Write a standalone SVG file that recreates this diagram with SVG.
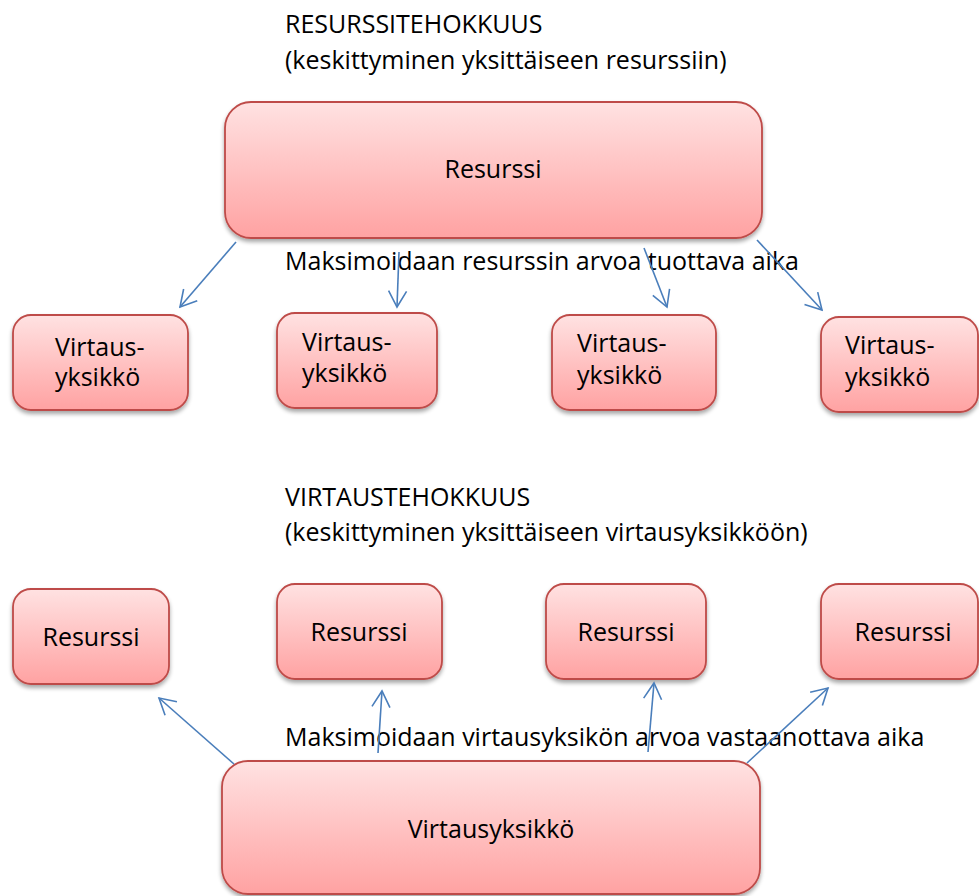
<svg xmlns="http://www.w3.org/2000/svg" width="979" height="896" viewBox="0 0 979 896">
<style>
text{font-family:"Open Sans","Noto Sans",sans-serif;font-size:25px;fill:#000}
.box{fill:url(#g);stroke:#BE4B48;stroke-width:1.8;filter:url(#sh)}
.c{text-anchor:middle}
.cn line{stroke:#4A7EBB;stroke-width:1.6;fill:none;marker-end:url(#ah)}
</style>
<defs>
<linearGradient id="g" x1="0" y1="0" x2="0" y2="1">
<stop offset="0" stop-color="#FFE2E2"/>
<stop offset="1" stop-color="#FFA2A2"/>
</linearGradient>
<filter id="sh" x="-10%" y="-10%" width="120%" height="130%">
<feGaussianBlur in="SourceAlpha" stdDeviation="2"/>
<feOffset dx="0" dy="3" result="b"/>
<feComponentTransfer><feFuncA type="linear" slope="0.35"/></feComponentTransfer>
<feMerge><feMergeNode/><feMergeNode in="SourceGraphic"/></feMerge>
</filter>
<marker id="ah" viewBox="0 0 20 20" refX="18" refY="10" markerWidth="20" markerHeight="20" markerUnits="userSpaceOnUse" orient="auto">
<path d="M2 1 L18 10 L2 19" fill="none" stroke="#4A7EBB" stroke-width="1.6"/>
</marker>
</defs>

<text x="285" y="33">RESURSSITEHOKKUUS</text>
<text x="285" y="69">(keskittyminen yksittäiseen resurssiin)</text>

<g id="res-top"><rect class="box" x="225" y="102" width="537" height="136" rx="26"/><text class="c" x="493" y="178">Resurssi</text></g>

<g id="vy1"><rect class="box" x="13" y="315" width="175" height="95" rx="18"/><text x="55" y="356">Virtaus-</text><text x="55" y="386">yksikkö</text></g>
<g id="vy2"><rect class="box" x="277" y="313" width="160" height="95" rx="18"/><text x="302" y="351">Virtaus-</text><text x="302" y="382">yksikkö</text></g>
<g id="vy3"><rect class="box" x="552" y="315" width="164" height="95" rx="18"/><text x="577" y="352">Virtaus-</text><text x="577" y="384">yksikkö</text></g>
<g id="vy4"><rect class="box" x="821" y="317" width="157" height="95" rx="18"/><text x="845" y="354">Virtaus-</text><text x="845" y="386">yksikkö</text></g>

<text x="285" y="270">Maksimoidaan resurssin arvoa tuottava aika</text>

<text x="285" y="506">VIRTAUSTEHOKKUUS</text>
<text x="285" y="541">(keskittyminen yksittäiseen virtausyksikköön)</text>

<g id="r1"><rect class="box" x="13" y="589" width="156" height="95" rx="18"/><text class="c" x="91" y="646">Resurssi</text></g>
<g id="r2"><rect class="box" x="277" y="584" width="165" height="95" rx="18"/><text class="c" x="359" y="641">Resurssi</text></g>
<g id="r3"><rect class="box" x="546" y="584" width="160" height="95" rx="18"/><text class="c" x="626" y="641">Resurssi</text></g>
<g id="r4"><rect class="box" x="821" y="584" width="157" height="95" rx="18"/><text class="c" x="903" y="641">Resurssi</text></g>

<text x="285" y="746">Maksimoidaan virtausyksikön arvoa vastaanottava aika</text>

<g id="vy-bottom"><rect class="box" x="222" y="761" width="538" height="133" rx="26"/><text class="c" x="491" y="838">Virtausyksikkö</text></g>

<g id="connectors" class="cn">
<line x1="236" y1="242" x2="180" y2="307"/>
<line x1="399" y1="252" x2="397" y2="307"/>
<line x1="644" y1="248" x2="667" y2="307"/>
<line x1="757" y1="240" x2="822" y2="310"/>
<line x1="234" y1="764" x2="159" y2="698"/>
<line x1="378" y1="753" x2="382" y2="691"/>
<line x1="648" y1="752" x2="654" y2="683"/>
<line x1="747" y1="763" x2="828" y2="688"/>
</g>
</svg>
